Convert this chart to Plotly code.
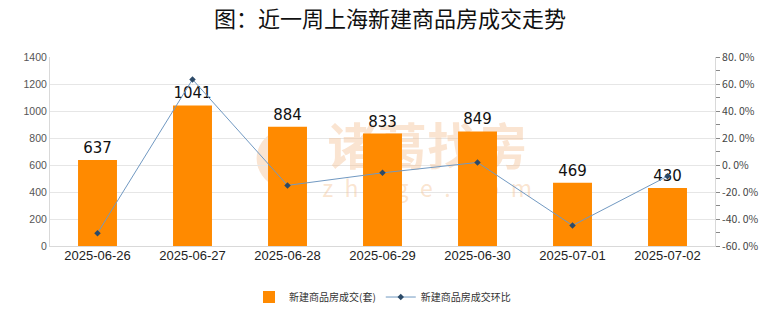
import plotly.graph_objects as go

# Weekly new-home transactions in Shanghai
dates = ["2025-06-26", "2025-06-27", "2025-06-28", "2025-06-29",
         "2025-06-30", "2025-07-01", "2025-07-02"]
units = [637, 1041, 884, 833, 849, 469, 430]
mom_pct = [-50.5, 63.4, -15.1, -5.8, 1.9, -44.8, -8.3]

left_ticks = [0, 200, 400, 600, 800, 1000, 1200, 1400]
right_tickvals = [80, 60, 40, 20, 0, -20, -40, -60]
right_ticktext = ["80. 0%", "60. 0%", "40. 0%", "20. 0%", "0. 0%",
                  "-20. 0%", "-40. 0%", "-60. 0%"]

font_cjk = "Noto Sans CJK SC, Liberation Sans, sans-serif"
wm_color = "rgba(244,196,152,0.45)"

fig = go.Figure()

# Brand watermark sits on the base subplot so the bars cover it
wm_space = "\u2002"
fig.add_trace(go.Scatter(
    x=[3.47, 3.47], y=[690, 405], mode="text",
    text=["<b>诸葛找房</b>", wm_space.join("zhuge.com")],
    textfont=dict(size=[50, 23], color=wm_color, family=font_cjk),
    hoverinfo="skip", showlegend=False, xaxis="x", yaxis="y",
))

fig.add_trace(go.Bar(
    x=dates, y=units, name="新建商品房成交(套)",
    marker=dict(color="#FF8A00", line=dict(width=0)),
    text=[str(v) for v in units], textposition="outside",
    textfont=dict(size=15, color="#111111", family="DejaVu Sans, sans-serif"),
    cliponaxis=False, xaxis="x2", yaxis="y2",
))

fig.add_trace(go.Scatter(
    x=dates, y=mom_pct, name="新建商品房成交环比",
    mode="lines+markers",
    line=dict(color="#7199c2", width=1),
    marker=dict(symbol="diamond", size=5, color="#2c4a68"),
    xaxis="x2", yaxis="y3",
))

# logo mark of the watermark, kept beneath the data
fig.add_shape(type="path", xref="x", yref="y", layer="below",
              path="M 1.90 860 C 1.60 780, 1.60 520, 1.90 430 C 1.77 520, 1.77 780, 1.90 860 Z",
              fillcolor=wm_color, line=dict(width=0))
fig.add_shape(type="path", xref="x", yref="y", layer="below",
              path="M 1.95 850 C 2.20 780, 2.20 520, 1.95 440 C 2.08 520, 2.08 780, 1.95 850 Z",
              fillcolor=wm_color, line=dict(width=0))

axis_font_en = "Liberation Sans, sans-serif"

fig.update_layout(
    width=780, height=328,
    margin=dict(l=50, r=65, t=57, b=82),
    paper_bgcolor="#ffffff", plot_bgcolor="#ffffff",
    title=dict(text="图：近一周上海新建商品房成交走势", x=0.5, xanchor="center",
               y=1 - 19 / 328, yref="container", yanchor="middle",
               font=dict(size=22, color="#111111", family=font_cjk)),
    bargap=0.59,
    showlegend=True,
    legend=dict(orientation="h", x=0.5, xanchor="center", y=-0.27, yanchor="middle",
                font=dict(size=10, color="#333333", family=font_cjk),
                itemwidth=30, tracegroupgap=0),
    xaxis=dict(range=[-0.5, 6.5], showgrid=False, showticklabels=False,
               zeroline=False, ticks="",
               showline=True, linecolor="#d9d9d9", linewidth=1),
    xaxis2=dict(type="category", overlaying="x", showgrid=False, ticks="",
                tickfont=dict(size=13, color="#222222", family=axis_font_en),
                showline=False),
    yaxis=dict(range=[0, 1400], tickvals=left_ticks, showgrid=True,
               gridcolor="#e6e6e6", gridwidth=1, zeroline=False,
               showline=True, linecolor="#d9d9d9", linewidth=1,
               ticks="", tickfont=dict(size=10.5, color="#555555", family=axis_font_en)),
    yaxis2=dict(range=[0, 1400], overlaying="y", showgrid=False, zeroline=False,
                showticklabels=False, showline=False, ticks=""),
    yaxis3=dict(overlaying="y", side="right", range=[-60, 80],
                tickvals=right_tickvals, ticktext=right_ticktext,
                showgrid=False, zeroline=False,
                showline=True, linecolor="#d9d9d9", linewidth=1,
                ticks="outside", ticklen=4, tickcolor="#888888",
                minor=dict(ticks="outside", dtick=10, ticklen=4, tickcolor="#888888"),
                tickfont=dict(size=10.5, color="#444444", family=font_cjk)),
)

fig.write_html("out.html")
